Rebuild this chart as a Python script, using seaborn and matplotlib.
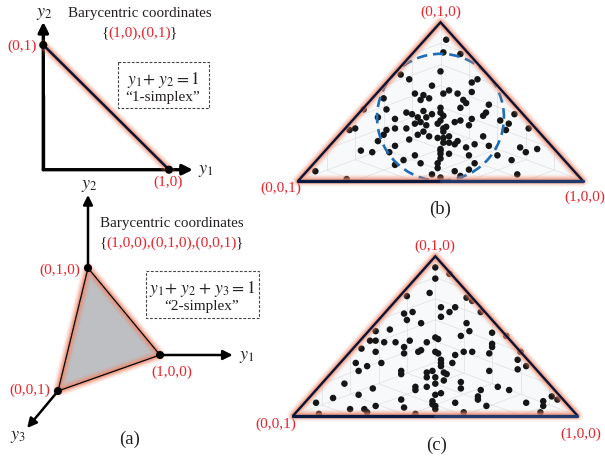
import numpy as np
import matplotlib
matplotlib.use("Agg")
import matplotlib.pyplot as plt
import seaborn as sns
import pandas as pd
from matplotlib.patches import Rectangle, Ellipse, Polygon

# ---------------- data ----------------
# 1-simplex vertices (y1, y2)
simplex1_vertices = [(0, 1), (1, 0)]
simplex1_labels = ["(0,1)", "(1,0)"]
# 2-simplex vertices (y1, y2, y3)
simplex2_vertices = [(1, 0, 0), (0, 1, 0), (0, 0, 1)]
simplex2_labels = ["(1,0,0)", "(0,1,0)", "(0,0,1)"]

# sample points on the 2-simplex, projected ternary coords in percent
# (u: across the base from (0,0,1) to (1,0,0), v: height towards (0,1,0))
b_points = [(52, 89), (51, 81), (57, 80), (50, 69), (36, 67), (39, 64), (61, 62), (63, 64),
            (47, 60), (53, 57), (51, 55), (56, 55), (61, 56), (41, 55), (44, 54), (46, 52),
            (43, 51), (30, 52), (58, 51), (59, 49), (50, 46), (50, 43), (57, 46), (67, 48),
            (31, 45), (38, 43), (40, 42), (44, 44), (47, 42), (66, 43), (65, 41), (42, 40),
            (45, 40), (50, 38), (49, 36), (34, 39), (28, 40), (76, 42), (61, 39), (55, 37),
            (57, 38), (71, 38), (41, 36), (43, 37), (45, 35), (52, 34), (60, 35), (34, 33),
            (38, 33), (31, 32), (30, 29), (74, 36), (73, 32), (20, 33), (18, 32), (44, 31),
            (42, 29), (51, 31), (81, 33), (49, 27), (51, 27), (53, 28), (46, 28), (65, 28),
            (28, 25), (39, 26), (56, 25), (53, 24), (51, 24), (55, 23), (62, 23), (67, 22),
            (34, 22), (22, 19), (26, 18), (32, 18), (50, 20), (50, 17), (53, 17), (59, 21),
            (60, 16), (70, 16), (78, 21), (80, 18), (84, 20), (41, 16), (50, 14), (75, 13),
            (37, 13), (49, 11), (34, 10), (43, 11), (62, 11), (60, 7), (49, 8), (55, 6),
            (77, 4), (50, 2), (6, 6), (17, 1), (57, 3), (47, 4), (23, 45), (51, 41),
            (51, 33), (50, 19)]

c_points = [(50, 93), (50, 86), (48, 77), (40, 75), (55, 89), (52, 68), (57, 68), (55, 65),
            (61, 74), (63, 72), (52, 62), (39, 64), (42, 65), (40, 60), (45, 58), (66, 65),
            (61, 58), (62, 53), (34, 54), (29, 53), (27, 47), (29, 47), (32, 46), (36, 46),
            (41, 47), (47, 46), (50, 49), (51, 48), (59, 50), (70, 52), (75, 50), (70, 45),
            (70, 43), (24, 42), (29, 40), (39, 43), (39, 39), (44, 40), (45, 41), (50, 40),
            (51, 39), (57, 38), (60, 40), (63, 40), (69, 39), (56, 33), (52, 35), (52, 33),
            (80, 40), (79, 35), (82, 31), (79, 29), (22, 33), (23, 28), (26, 31), (31, 33),
            (38, 28), (38, 26), (47, 27), (49, 28), (53, 27), (54, 26), (52, 31), (47, 24),
            (43, 18), (43, 16), (47, 18), (50, 20), (50, 24), (53, 22), (59, 21), (59, 17),
            (66, 16), (69, 28), (72, 18), (76, 16), (18, 20), (28, 17), (23, 13), (14, 11),
            (8, 8), (20, 4), (25, 4), (29, 6), (38, 10), (39, 5), (43, 1), (50, 13),
            (49, 9), (50, 6), (49, 7), (50, 4), (52, 14), (57, 8), (65, 12), (65, 10),
            (68, 6), (82, 8), (88, 9), (88, 6), (91, 12), (93, 10), (87, 2), (9, 1),
            (26, 2), (60, 2)]

panel_captions = ["(a)", "(b)", "(c)"]

# ---------------- style ----------------
sns.set_style("white")
plt.rcParams["font.family"] = ["Liberation Serif", "DejaVu Serif"]
plt.rcParams["mathtext.fontset"] = "stix"

RED = "#e8242c"
TXT = "#231f20"
NAVY = "#0b1433"
NAVY2 = "#22396b"
GLOW = "#f0886a"
W, H = 605, 464

fig = plt.figure(figsize=(W / 100, H / 100), dpi=100)
base = fig.add_axes([0, 0, 1, 1])
base.set_xlim(0, W)
base.set_ylim(H, 0)
base.axis("off")


def px_axes(x0, y0, x1, y1):
    a = fig.add_axes([x0 / W, 1 - y1 / H, (x1 - x0) / W, (y1 - y0) / H])
    a.set_xlim(0, 1)
    a.set_ylim(0, 1)
    a.axis("off")
    return a


def glow_line(ax, xs, ys, z=4):
    for lw, al in [(8.5, 0.12), (6.5, 0.2), (4.5, 0.33), (3, 0.5)]:
        ax.plot(xs, ys, color=GLOW, lw=lw, alpha=al, solid_capstyle="round",
                clip_on=False, zorder=z)


def arrow(ax, start, tip, lw=2.2, ms=15):
    ax.annotate("", xy=tip, xytext=start,
                arrowprops=dict(arrowstyle="-|>", color="k", lw=lw, mutation_scale=ms,
                                shrinkA=0, shrinkB=0), annotation_clip=False)


def multicolor_set(ax, x, y, inner, size=11):
    t = ax.text(x, y, inner, color=RED, fontsize=size, ha="center", va="center")
    ax.annotate("{", xy=(0, 0.5), xycoords=t, xytext=(0.5, 0), textcoords="offset pixels",
                ha="right", va="center", color=TXT, fontsize=size)
    ax.annotate("}", xy=(1, 0.5), xycoords=t, xytext=(-1.5, 0), textcoords="offset pixels",
                ha="left", va="center", color=TXT, fontsize=size)


# ---------------- panel (a) top: 1-simplex ----------------
a1 = px_axes(43.3, 46.0, 169.0, 170.7)
a1.plot([0, 0, 0.6], [0.6, 0, 0], color="k", lw=2.4, solid_joinstyle="miter", zorder=3)
arrow(a1, (0, 0), (0, 1.185), lw=2.4, ms=15)
arrow(a1, (0, 0), (1.19, 0), lw=2.4, ms=15)
s1x = [v[0] for v in simplex1_vertices]
s1y = [v[1] for v in simplex1_vertices]
glow_line(a1, s1x, s1y)
a1.plot(s1x, s1y, color=NAVY, lw=1.8, zorder=5)
sns.scatterplot(x=s1x, y=s1y, ax=a1, color="k", s=34, edgecolor="none", zorder=6,
                clip_on=False, legend=False)
a1.axis("off")
a1.annotate(simplex1_labels[0], xy=simplex1_vertices[0], xytext=(-21, 0),
            textcoords="offset pixels", color=RED, fontsize=11, ha="center", va="center")
a1.annotate(simplex1_labels[1], xy=simplex1_vertices[1], xytext=(-1, -12),
            textcoords="offset pixels", color=RED, fontsize=11, ha="center", va="center")
base.text(44, 13, r"$y_2$", fontsize=13, ha="center", va="center", color=TXT)
base.text(206, 171, r"$y_1$", fontsize=13, ha="center", va="center", color=TXT)
base.text(140, 14, "Barycentric coordinates", fontsize=10.8, ha="center", va="center", color=TXT)
multicolor_set(base, 140, 33, "(1,0),(0,1)")
base.add_patch(Rectangle((118, 63), 91, 46, fill=False, ec="#444444", lw=0.8, ls=(0, (2.5, 1.5))))
base.text(163, 80, r"$y_1\!+\,y_2=1$", fontsize=12.5, ha="center", va="center", color=TXT)
base.text(163, 97, "\u201c1-simplex\u201d", fontsize=11, ha="center", va="center", color=TXT)

# ---------------- panel (a) bottom: 2-simplex in 3-D ----------------
O3 = np.array([88.0, 356.0])
E3 = np.array([[72.0, 0.0], [0.0, -87.0], [-30.0, 36.0]])


def proj(p):
    return O3 + np.asarray(p, dtype=float) @ E3


tri = np.array([proj(v) for v in simplex2_vertices])
base.add_patch(Polygon(tri, closed=True, fc="#bdbfc2", ec="none", zorder=2))
closed = np.vstack([tri, tri[:1]])
glow_line(base, closed[:, 0], closed[:, 1], z=3)
base.plot(closed[:, 0], closed[:, 1], color="k", lw=0.9, zorder=4)
axis_tips = [(2.01, 0, 0), (0, 1.84, 0), (0, 0, 2.03)]
for v, tip in zip(simplex2_vertices, axis_tips):
    arrow(base, proj(v), proj(tip), lw=1.8, ms=14)
sns.scatterplot(x=tri[:, 0], y=tri[:, 1], ax=base, color="k", s=34, edgecolor="none",
                zorder=6, legend=False)
base.set_xlim(0, W)
base.set_ylim(H, 0)
base.axis("off")
lab_off = [(12, 16), (-28, 1), (-28, -2)]
for v, lab, (dx, dy) in zip(simplex2_vertices, simplex2_labels, lab_off):
    p = proj(v)
    base.text(p[0] + dx, p[1] + dy, lab, color=RED, fontsize=11, ha="center", va="center")
base.text(89, 186, r"$y_2$", fontsize=13, ha="center", va="center", color=TXT)
base.text(247, 357, r"$y_1$", fontsize=13, ha="center", va="center", color=TXT)
base.text(18, 437, r"$y_3$", fontsize=13, ha="center", va="center", color=TXT)
base.text(172, 224, "Barycentric coordinates", fontsize=10.8, ha="center", va="center", color=TXT)
multicolor_set(base, 172, 243, "(1,0,0),(0,1,0),(0,0,1)")
base.add_patch(Rectangle((146, 272), 113, 47, fill=False, ec="#444444", lw=0.8, ls=(0, (2.5, 1.5))))
base.text(202, 289, r"$y_1\!+\,y_2+\,y_3=1$", fontsize=12.5, ha="center", va="center", color=TXT)
base.text(202, 307, "\u201c2-simplex\u201d", fontsize=11, ha="center", va="center", color=TXT)
base.text(130, 439, panel_captions[0], fontsize=13.5, ha="center", va="center", color=TXT)

# ---------------- panels (b) and (c): samples on the simplex ----------------
grid_levels = [0.2, 0.4, 0.6, 0.8]


def simplex_panel(box, pts, caption, cap_xy, offs, circle=False):
    ax = px_axes(*box)
    Wp, Hp = box[2] - box[0], box[3] - box[1]
    verts = {"R": np.array([1.0, 0.0]), "T": np.array([0.5, 1.0]), "L": np.array([0.0, 0.0])}
    ax.add_patch(Polygon([verts["L"], verts["R"], verts["T"]], closed=True,
                         fc="#f7f9fb", ec="none", zorder=0))
    O = np.array([0.5, 1 / 3])
    gkw = dict(color="#e2e2e2", lw=0.55, zorder=1)
    for a, b in [("R", "T"), ("T", "L"), ("L", "R")]:
        A, B = verts[a] - O, verts[b] - O
        for c in grid_levels:
            p = O + c * A
            q = p + (1 - c) * B
            ax.plot([p[0], q[0]], [p[1], q[1]], **gkw)
            p = O + c * B
            q = p + (1 - c) * A
            ax.plot([p[0], q[0]], [p[1], q[1]], **gkw)
    for k in verts:
        ax.plot([O[0], verts[k][0]], [O[1], verts[k][1]], **gkw)
    df = pd.DataFrame(pts, columns=["u", "v"]) / 100.0
    sns.scatterplot(data=df, x="u", y="v", ax=ax, color="#161616", s=22,
                    edgecolor="none", legend=False, zorder=3)
    if circle:
        side = np.hypot(Wp / 2, Hp)
        r = Wp * Hp / (Wp + 2 * side)
        ax.add_patch(Ellipse((0.5, r / Hp), 2 * r / Wp, 2 * r / Hp, fill=False,
                             ec="#1f6db5", lw=1.9, ls=(0, (4, 2.2)), zorder=3.5))
    L, R, T = verts["L"], verts["R"], verts["T"]
    glow_line(ax, [L[0], T[0], R[0], L[0]], [L[1], T[1], R[1], L[1]], z=4)
    ax.plot([L[0], T[0], R[0]], [L[1], T[1], R[1]], color=NAVY, lw=1.7,
            solid_joinstyle="miter", clip_on=False, zorder=5)
    ax.plot([L[0], 0.5], [0, 0], color="#0c1a40", lw=2.4, clip_on=False, zorder=5)
    ax.plot([0.5, R[0]], [0, 0], color=NAVY2, lw=2.4, clip_on=False, zorder=5)
    ax.set_xlim(0, 1)
    ax.set_ylim(0, 1)
    ax.axis("off")
    for key, lab in zip(["R", "T", "L"], simplex2_labels):
        ax.annotate(lab, xy=verts[key], xytext=offs[key], textcoords="offset pixels",
                    color=RED, fontsize=11, ha="center", va="center", annotation_clip=False)
    base.text(cap_xy[0], cap_xy[1], caption, fontsize=13.5, ha="center", va="center", color=TXT)
    return ax


simplex_panel((298.3, 23.3, 582.7, 181.7), b_points, panel_captions[1], (440, 209),
              {"R": (2, -16), "T": (0, 11), "L": (-17, -7)}, circle=True)
simplex_panel((293.3, 257.3, 577.3, 416.5), c_points, panel_captions[2], (437, 445),
              {"R": (4, -18), "T": (0, 11.5), "L": (-17, -8)})

fig.savefig("out.png", dpi=100)
